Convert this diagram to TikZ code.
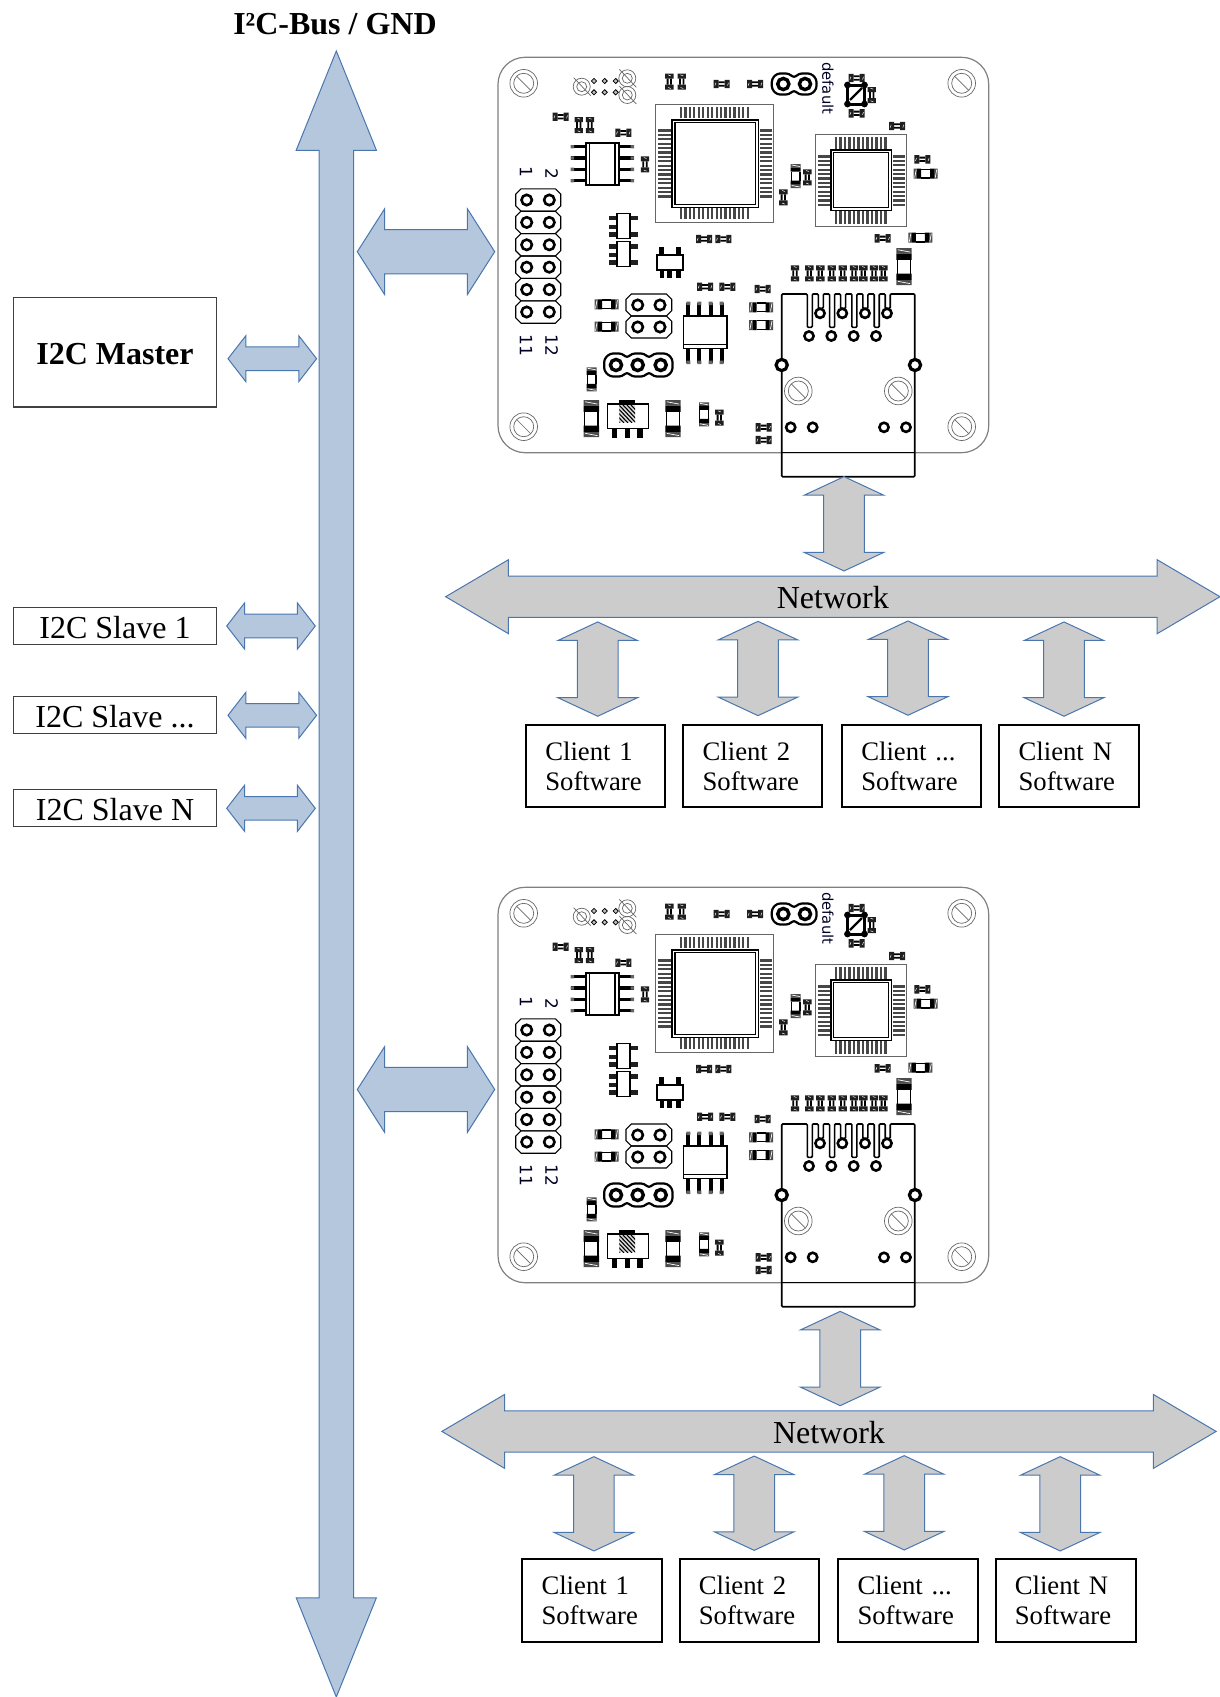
\documentclass[tikz,border=0pt]{standalone}
\usepackage{fontspec}
\setmainfont{Liberation Serif}
\newfontfamily\pcbfont{DejaVu Sans}
\usetikzlibrary{shapes.arrows}
\definecolor{arrowblue}{HTML}{4A76B0}
\definecolor{busfill}{HTML}{B4C7DC}
\definecolor{netfill}{HTML}{CCCCCC}
\definecolor{edgegray}{HTML}{808080}
\newcommand{\tridots}{...}

\begin{document}
\begin{tikzpicture}[
  x=1pt, y=-1pt,
  blockarrow/.style={double arrow, draw=arrowblue, line width=1pt, inner xsep=0pt, outer sep=0pt},
  busarrow/.style={blockarrow, fill=busfill},
  netarrow/.style={blockarrow, fill=netfill},
  masterlink/.style={busarrow, inner ysep=11.3pt, minimum height=88.6pt, minimum width=45pt,
                     double arrow head extend=11.2pt, double arrow tip angle=104.4},
  boardlink/.style={busarrow, inner ysep=21.7pt, minimum height=137.4pt, minimum width=85pt,
                    double arrow head extend=20.8pt, double arrow tip angle=115},
  clientlink/.style={netarrow, rotate=90, inner ysep=19.8pt, minimum height=94.3pt, minimum width=78.6pt,
                     double arrow head extend=19.4pt, double arrow tip angle=130},
  devicebox/.style={draw=black!75, line width=1.1pt, inner sep=0pt, minimum width=203.6pt,
                    text height=25pt, text depth=0pt, font=\fontsize{32}{36}\selectfont},
  clientbox/.style={draw=black, line width=2pt, minimum height=82.3pt, inner xsep=19.3pt, inner ysep=0pt,
                    align=left, font=\fontsize{26.7}{30}\selectfont},
  padfill/.style={fill=black!88},
  qfppad/.style={draw=black!72, line width=2.2pt},
  ringpin/.style={draw=black, fill=white, line width=2.6pt},
  pinframe/.style={draw=black, line width=1.1pt},
  silkline/.style={draw=black!60, line width=.7pt},
  smdsmall/.pic={
    \fill[padfill] (-8,-4.2) rectangle (-3,4.2) (3,-4.2) rectangle (8,4.2);
    \draw[white, line width=.5pt] (-6.8,1.6) -- (-5.8,-1.2) (5.8,1.6) -- (6.8,-1.2);
    \fill[black] (-3,-2.6) rectangle (3,-.8) (-3,.8) rectangle (3,2.6);
  },
  smdlarge/.pic={
    \fill[black!70] (-12,-5) rectangle (-8.5,5) (8.5,-5) rectangle (12,5);
    \draw[white, line width=.7pt] (-11,4) -- (-9.5,-4) (9.5,4) -- (11,-4);
    \fill[black] (-8.5,-5) rectangle (-4.5,5) (4.5,-5) rectangle (8.5,5);
    \draw[black, line width=1.4pt] (-4.5,-4.3) -- (4.5,-4.3) (-4.5,4.3) -- (4.5,4.3);
  },
  screwhole/.pic={
    \draw[silkline] (0,0) circle[radius=13.8] (0,0) circle[radius=10];
    \draw[silkline] (-7,-7) -- (7,7);
  },
  pcbboard/.pic={
    % outline and screw holes
    \draw[edgegray, line width=1.2pt, rounded corners=27pt] (498,57.3) rectangle (988.7,452.7);
    \foreach \hx/\hy in {523.7/83.3,961.7/83.3,523.7/426.7,961.7/426.7,798.3/391,898.3/391}
      \pic at (\hx,\hy) {screwhole};
    % vias top left
    \foreach \hx/\hy in {581.7/86.7,627.3/78.3,627.3/95} {
      \draw[silkline] (\hx,\hy) circle[radius=8.5] (\hx,\hy) circle[radius=5];
      \draw[silkline] (\hx-8,\hy-9) -- (\hx+9,\hy+9);
    }
    \foreach \hx in {594,604.7,615.7} \foreach \hy in {81,92.3}
      \draw[black, line width=.8pt, fill=black!25] (\hx,\hy-2.6) -- (\hx+2.6,\hy) -- (\hx,\hy+2.6) -- (\hx-2.6,\hy) -- cycle;
    % small parts
    \foreach \px/\py in {721.7/84,755/84,560.7/116.7,623.3/132.7,704/239,723.3/239,856.7/78,856.7/113.3,
                         897/126,922.3/159.3,882.7/238.3,705/286.7,727.3/286.7,762.7/289,763.7/427.3,763.7/440}
      \pic at (\px,\py) {smdsmall};
    \foreach \px/\py in {669.3/81.7,681.7/81.7,578.7/125,590/125,645/164.3,871.7/95,807.3/177.3,783.3/197.3,
                         795/273.3,809.3/273.3,820.3/273.3,831.7/273.3,842.7/273.3,854/273.3,863.3/273.3,
                         874/273.3,883.3/273.3,719.3/417.7}
      \pic[rotate=90] at (\px,\py) {smdsmall};
    \foreach \px/\py in {925.7/173.7,920.3/237.7,761/307.3,761/325,606.5/304.3,606.5/326.7}
      \pic at (\px,\py) {smdlarge};
    \foreach \px/\py in {795.7/176,591.7/379.3,704/414.3}
      \pic[rotate=90] at (\px,\py) {smdlarge};
    \foreach \px/\py in {591.3/418.7,673/418.7,904/266.7}
      \pic[rotate=90, scale=1.54] at (\px,\py) {smdlarge};
    % crossed part
    \draw[black, line width=3pt] (847.5,85) rectangle (864.5,104);
    \draw[black, line width=2.2pt] (850,100) -- (862,88);
    \foreach \px/\py in {847.5/85,864.5/85,847.5/104,864.5/104}
      \fill[black] (\px,\py) circle[radius=3.4];
    % upper SOIC
    \foreach \py in {146.7,158,169.3,180.7} {
      \draw[black, line width=3.4pt] (571,\py) -- (585.7,\py) (619,\py) -- (634,\py);
      \fill[black!60] (570.5,\py-1.7) rectangle (574,\py+1.7) (630.5,\py-1.7) rectangle (634,\py+1.7);
    }
    \draw[black, line width=1.6pt, fill=white] (585.7,142.7) rectangle (619,185);
    \draw[black, line width=1.2pt] (589.5,142.7) -- (589.5,185) (615,142.7) -- (615,185);
    % SOT parts
    \foreach \sy in {0,28.3} {
      \foreach \py in {218,226.7,234.3} \fill[padfill] (609,\sy+\py-2.2) rectangle (617,\sy+\py+2.2);
      \foreach \py in {218,234.3} \fill[padfill] (630,\sy+\py-2.2) rectangle (638,\sy+\py+2.2);
      \draw[black, line width=1.6pt, fill=white] (616.7,\sy+213.3) rectangle (630,\sy+238.3);
    }
    \foreach \px in {661.7,678.3} \fill[black] (\px-2.5,247) rectangle (\px+2.5,255);
    \foreach \px in {661.7,669.3,678.3} \fill[black] (\px-2.2,270) rectangle (\px+2.2,278);
    \draw[black, line width=1.6pt, fill=white] (656.7,255) rectangle (682.7,270);
    % large QFP
    \draw[silkline] (655.7,104.3) rectangle (773.7,222.7);
    \foreach \i in {0,...,15} {
      \draw[qfppad] (681+\i*4.45,107.3) -- (681+\i*4.45,118.3);
      \draw[qfppad] (681+\i*4.45,208.3) -- (681+\i*4.45,219.3);
      \draw[qfppad] (658.3,130.5+\i*4.4) -- (671,130.5+\i*4.4);
      \draw[qfppad] (760,130.5+\i*4.4) -- (771.7,130.5+\i*4.4);
    }
    \draw[black, line width=1.6pt, fill=white] (672,119.7) rectangle (758.6,207.6);
    \draw[black, line width=1.3pt] (675,122.7) rectangle (755.6,204.6);
    % small QFP
    \draw[silkline] (815,134) rectangle (906.3,226.7);
    \foreach \i in {0,...,11} {
      \draw[qfppad] (836+\i*4.5,137.3) -- (836+\i*4.5,148.7);
      \draw[qfppad] (836+\i*4.5,211.3) -- (836+\i*4.5,224);
      \draw[qfppad] (818.3,156.5+\i*4.4) -- (830,156.5+\i*4.4);
      \draw[qfppad] (892.7,156.5+\i*4.4) -- (905,156.5+\i*4.4);
    }
    \draw[black, line width=1.6pt, fill=white] (830.7,149.7) rectangle (891.6,210.3);
    \draw[black, line width=1.3pt] (833.5,152.5) rectangle (888.8,207.5);
    % 2x6 header
    \foreach \i in {0,...,5} {
      \draw[pinframe] (521,188.8+\i*22.4) -- (555.4,188.8+\i*22.4) -- (560.7,194.1+\i*22.4) -- (560.7,205.9+\i*22.4)
        -- (555.4,211.2+\i*22.4) -- (521,211.2+\i*22.4) -- (515.7,205.9+\i*22.4) -- (515.7,194.1+\i*22.4) -- cycle;
      \draw[ringpin] (526.7,200+\i*22.4) circle[radius=5.2] (549.3,200+\i*22.4) circle[radius=5.2];
    }
    % 2x2 jumper
    \foreach \py in {305,327} {
      \draw[pinframe] (631.3,\py-11) -- (666.4,\py-11) -- (671.7,\py-5.7) -- (671.7,\py+5.7) -- (666.4,\py+11)
        -- (631.3,\py+11) -- (626,\py+5.7) -- (626,\py-5.7) -- cycle;
      \draw[ringpin] (637.7,\py) circle[radius=5.2] (660,\py) circle[radius=5.2];
    }
    % 3 pin jumper and default jumper
    \draw[black, line width=2.2pt, rounded corners=3pt] (610,353.5) -- (622,353.5) -- (627,358) -- (632,353.5) -- (644,353.5)
      -- (649,358) -- (654,353.5) -- (667,353.5) -- (672.5,359) -- (672.5,371) -- (667,376.5) -- (654,376.5) -- (649,372)
      -- (644,376.5) -- (632,376.5) -- (627,372) -- (622,376.5) -- (610,376.5) -- (604.2,371) -- (604.2,359) -- cycle;
    \draw[ringpin, line width=3.4pt] (616,365) circle[radius=5.6] (637.7,365) circle[radius=5.6] (660.7,365) circle[radius=5.6];
    \draw[black, line width=2.2pt, rounded corners=3pt] (777,73.5) -- (789,73.5) -- (794,78) -- (799,73.5) -- (811,73.5)
      -- (816.5,79) -- (816.5,89) -- (811,94.5) -- (799,94.5) -- (794,90) -- (789,94.5) -- (777,94.5) -- (771.8,89) -- (771.8,79) -- cycle;
    \draw[ringpin, line width=3.4pt] (783.3,84) circle[radius=5.6] (805,84) circle[radius=5.6];
    % lower SOIC
    \foreach \px in {688.3,699.3,710.7,721.7} {
      \draw[black, line width=4pt] (\px,303) -- (\px,315.7) (\px,348.3) -- (\px,363);
      \fill[black!60] (\px-2,301.5) rectangle (\px+2,305) (\px-2,360.5) rectangle (\px+2,364);
    }
    \draw[black, line width=1.6pt, fill=white] (683.3,315.7) rectangle (726.7,348.3);
    \draw[black, line width=1.2pt] (683.3,344.5) -- (726.7,344.5);
    % slide switch
    \foreach \px in {614.3,627.7,640} \fill[black] (\px-2.6,428) rectangle (\px+2.6,438.3);
    \draw[black, line width=1.4pt, fill=white] (607.3,404) rectangle (648.3,428.3);
    \fill[black] (619.3,400) rectangle (635,405);
    \fill[black!15] (619.3,405) rectangle (635,422.3);
    \begin{scope}
      \clip (619.3,405) rectangle (635,422.3);
      \foreach \i in {0,...,7}
        \draw[black, line width=1.1pt] (603+\i*4,405) -- (620+\i*4,423);
    \end{scope}
  },
  rjjack/.pic={
    \draw[black, line width=1.6pt, rounded corners=1pt] (781.7,476.7) -- (781.7,294) -- (807.3,294)
      foreach \k in {1,2,3,4} { -- ++(0,33.3) -- ++(5,0) -- ++(0,-33.3) -- ++(6,0) -- ++(0,14.3) -- ++(5,0) -- ++(0,-14.3) -- ++(6.3,0) }
      -- (914.7,294) -- (914.7,476.7) -- cycle;
    \draw[black, line width=1.3pt] (781.7,452.7) -- (914.7,452.7);
    \draw[ringpin] (820,313.3) circle[radius=4.6] (842.3,313.3) circle[radius=4.6] (865,313.3) circle[radius=4.6] (887,313.3) circle[radius=4.6];
    \draw[ringpin] (809,336) circle[radius=4.6] (831.3,336) circle[radius=4.6] (853.7,336) circle[radius=4.6] (876,336) circle[radius=4.6];
    \draw[ringpin, line width=3.2pt] (781.7,365) circle[radius=5.6] (915,365) circle[radius=5.6];
    \draw[ringpin] (790.7,427.3) circle[radius=4.6] (812.7,427.3) circle[radius=4.6] (884,427.3) circle[radius=4.6] (906,427.3) circle[radius=4.6];
  },
  pinlabels/.pic={
    \node[rotate=-90, inner sep=0pt, text=black!85!blue, font=\pcbfont\fontsize{14.8}{16}\selectfont] (-default) at (828,88.3) {default};
    \node[rotate=-90, inner sep=0pt, text=black!85!blue, font=\pcbfont\fontsize{17}{18}\selectfont] (-pinone) at (526,171.7) {1};
    \node[rotate=-90, inner sep=0pt, text=black!85!blue, font=\pcbfont\fontsize{17}{18}\selectfont] (-pintwo) at (551.7,174) {2};
    \node[rotate=-90, inner sep=0pt, text=black!85!blue, font=\pcbfont\fontsize{17}{18}\selectfont] (-pineleven) at (526,345.7) {11};
    \node[rotate=-90, inner sep=0pt, text=black!85!blue, font=\pcbfont\fontsize{17}{18}\selectfont] (-pintwelve) at (551.7,345.7) {12};
  },
]
  \useasboundingbox (0,0) rectangle (1220,1697);

  \node[font=\bfseries\fontsize{32}{36}\selectfont, anchor=base, inner sep=0pt] (bustitle) at (335,34.3) {I²C-Bus / GND};
  \node[busarrow, rotate=90, inner ysep=16.8pt, minimum height=1646pt, minimum width=79.2pt,
        double arrow head extend=22.8pt, double arrow tip angle=44] (bus) at (336.3,874) {};

  \node[devicebox, minimum height=109.6pt, font=\bfseries\fontsize{32}{36}\selectfont] (master) at (115,352.2) {I2C Master};
  \node[devicebox, minimum height=37pt] (slaveone) at (115,625.8) {I2C Slave 1};
  \node[devicebox, minimum height=37pt] (slavedots) at (115,715.2) {I2C Slave ...};
  \node[devicebox, minimum height=37pt] (slaven) at (115,808.2) {I2C Slave N};

  \node[masterlink] (masterarrow) at (272.3,358.7) {};
  \node[masterlink] (slaveonearrow) at (271,626) {};
  \node[masterlink] (slavedotsarrow) at (272.3,715.3) {};
  \node[masterlink] (slavenarrow) at (271,808.3) {};

  \foreach \gy/\ly/\g in {0/251.7/a,830/1089.5/b} {
    \pic (board\g) at (0,\gy) {pcbboard};
    \pic (jack\g) at (0,\gy) {rjjack};
    \pic (labels\g) at (0,\gy) {pinlabels};
    \node[boardlink] (boardarrow\g) at (426,\ly) {};
  }

  \foreach \gx/\gy/\g in {0/0/a,-3.8/834.7/b} {
    \begin{scope}[shift={(\gx,\gy)}]
      \node[netarrow, inner ysep=7.1pt, text height=23.5pt, text depth=0pt, minimum height=774.3pt, minimum width=74pt,
            double arrow head extend=15.4pt, double arrow tip angle=61, font=\fontsize{32}{36}\selectfont] (network\g) at (832.8,596.7) {Network};
      \node[clientlink] (jackarrow\g) at (844,523.8) {};
      \foreach \ax/\ay/\bx/\bw/\c in {597.7/669.1/595.65/100.7/1,758/668.5/752.8/100.4/2,908/668.1/911.65/100.7/\tridots,1064/669.1/1069.3/101.4/N} {
        \node[clientlink] (clientarrow\g\ax) at (\ax,\ay) {};
        \node[clientbox, text width=\bw pt] (client\g\ax) at (\bx,765.9) {Client \c\\Software};
      }
    \end{scope}
  }
\end{tikzpicture}
\end{document}
